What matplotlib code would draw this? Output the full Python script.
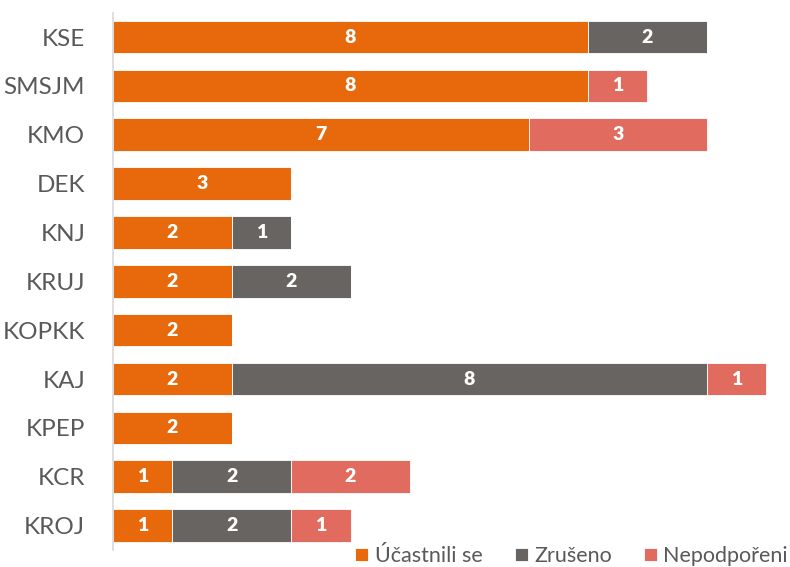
import matplotlib
matplotlib.use("Agg")
import matplotlib.pyplot as plt
import numpy as np

categories = ["KSE", "SMSJM", "KMO", "DEK", "KNJ", "KRUJ", "KOPKK", "KAJ", "KPEP", "KCR", "KROJ"]
ucastnili = [8, 8, 7, 3, 2, 2, 2, 2, 2, 1, 1]
zruseno = [2, 0, 0, 0, 1, 2, 0, 8, 0, 2, 2]
nepodporeni = [0, 1, 3, 0, 0, 0, 0, 1, 0, 2, 1]
series_names = ["Účastnili se", "Zrušeno", "Nepodpořeni"]
colors = ["#E8690B", "#686462", "#E06B5E"]

plt.rcParams['font.family'] = ['Lato', 'DejaVu Sans']

fig = plt.figure(figsize=(7.9, 5.67), dpi=100)
ax = fig.add_axes([113/790, 1-550/567, (784-113)/790, (550-12.6)/567])

y = np.arange(len(categories))
left = np.zeros(len(categories))
for vals, name, col in zip([ucastnili, zruseno, nepodporeni], series_names, colors):
    vals = np.array(vals, dtype=float)
    ax.barh(y, vals, left=left, height=0.665, color=col, edgecolor='white',
            linewidth=0.6, label=name)
    for yi, (l, v) in enumerate(zip(left, vals)):
        if v > 0:
            ax.text(l + v/2, yi, f"{int(v)}", ha='center', va='center',
                    color='white', fontsize=14, fontweight='heavy')
    left += vals

ax.set_ylim(len(categories) - 0.5, -0.5)
ax.set_xlim(0, 11.3)
ax.set_yticks(y)
ax.set_yticklabels(categories, fontsize=17.5, color='#595959')
ax.tick_params(axis='y', length=0, pad=20)
ax.set_xticks([])
for s in ['top', 'right', 'bottom']:
    ax.spines[s].set_visible(False)
ax.spines['left'].set_color('#D9D9D9')
ax.spines['left'].set_linewidth(1.2)

leg = fig.legend(loc='center right', bbox_to_anchor=(788/790, 1-556/567), ncol=3,
                 frameon=False, fontsize=15.5, handlelength=0.6, handleheight=0.6,
                 handletextpad=0.3, columnspacing=1.5, borderaxespad=0, borderpad=0)
for t in leg.get_texts():
    t.set_color('#595959')

fig.savefig("out.png", dpi=100)
